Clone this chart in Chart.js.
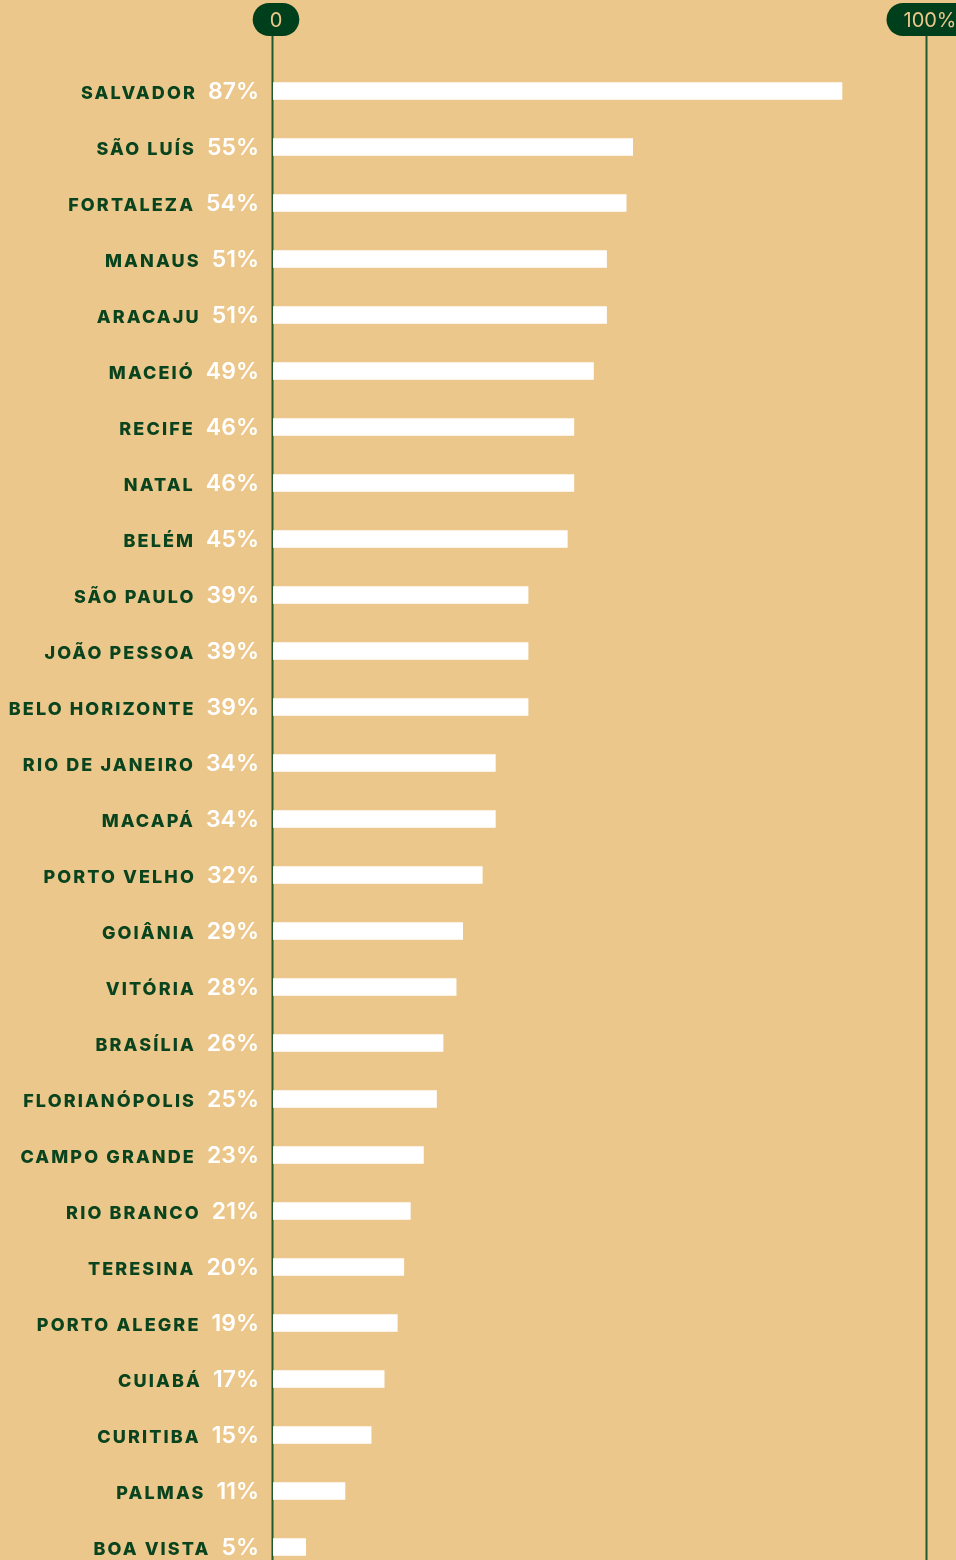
<!DOCTYPE html>
<html>
<head>
<meta charset="utf-8">
<script src="https://cdn.jsdelivr.net/npm/chart.js@4"></script>
<style>
  html, body { margin: 0; padding: 0; background: #ECC78B; overflow: hidden; }
  #wrap { width: 956px; height: 1580px; }
</style>
</head>
<body>
<div id="wrap"><canvas id="chart" width="956" height="1580"></canvas></div>
<script>
const cities = ['SALVADOR', 'SÃO LUÍS', 'FORTALEZA', 'MANAUS', 'ARACAJU', 'MACEIÓ', 'RECIFE', 'NATAL', 'BELÉM',
  'SÃO PAULO', 'JOÃO PESSOA', 'BELO HORIZONTE', 'RIO DE JANEIRO', 'MACAPÁ', 'PORTO VELHO', 'GOIÂNIA', 'VITÓRIA',
  'BRASÍLIA', 'FLORIANÓPOLIS', 'CAMPO GRANDE', 'RIO BRANCO', 'TERESINA', 'PORTO ALEGRE', 'CUIABÁ', 'CURITIBA',
  'PALMAS', 'BOA VISTA'];
const values = [87, 55, 54, 51, 51, 49, 46, 46, 45, 39, 39, 39, 34, 34, 32, 29, 28, 26, 25, 23, 21, 20, 19, 17, 15, 11, 5];
const axisTicks = [0, 100];
const axisLabels = ['0', '100%'];

const GREEN = '#003F1B';
const LABEL_GREEN = '#0A441E';
const TAN = '#ECC78B';

// vertical guide lines + pill badges for 0 and 100%
const guides = {
  id: 'guides',
  beforeDatasetsDraw(chart) {
    const ctx = chart.ctx;
    const x = chart.scales.x;
    ctx.save();
    ctx.strokeStyle = '#1E5A2C';
    ctx.lineWidth = 2;
    axisTicks.forEach(t => {
      const px = Math.round(x.getPixelForValue(t)) - 0.5;
      ctx.beginPath();
      ctx.moveTo(px, 30);
      ctx.lineTo(px, chart.height);
      ctx.stroke();
    });
    ctx.restore();
  },
  afterDraw(chart) {
    const ctx = chart.ctx;
    const x = chart.scales.x;
    ctx.save();
    ctx.font = '400 20px Inter';
    ctx.textAlign = 'center';
    ctx.textBaseline = 'middle';
    axisTicks.forEach((t, i) => {
      const cx = x.getPixelForValue(t) + 3;
      const w = ctx.measureText(axisLabels[i]).width + 34;
      const h = 33;
      ctx.fillStyle = GREEN;
      ctx.beginPath();
      ctx.roundRect(cx - w / 2, 3, w, h, h / 2);
      ctx.fill();
      ctx.fillStyle = TAN;
      ctx.fillText(axisLabels[i], cx, 21);
    });
    ctx.restore();
  }
};

// city name + percentage to the left of each bar
const rowLabels = {
  id: 'rowLabels',
  afterDatasetsDraw(chart) {
    const ctx = chart.ctx;
    const y = chart.scales.y;
    const right = 259;
    ctx.save();
    ctx.textBaseline = 'alphabetic';
    ctx.textAlign = 'right';
    cities.forEach((name, i) => {
      const base = y.getPixelForValue(i) + 7.5;
      ctx.font = '600 23px Inter';
      ctx.letterSpacing = '0px';
      ctx.fillStyle = '#FFFFFF';
      const pct = values[i] + '%';
      ctx.fillText(pct, right, base);
      const w = ctx.measureText(pct).width;
      ctx.font = '800 18px Inter';
      ctx.letterSpacing = '2.1px';
      ctx.fillStyle = LABEL_GREEN;
      ctx.fillText(name, right - w - 11, base);
    });
    ctx.restore();
  }
};

new Chart(document.getElementById('chart'), {
  type: 'bar',
  data: {
    labels: cities,
    datasets: [{
      data: values,
      backgroundColor: '#FFFFFF',
      borderWidth: 0,
      barThickness: 17
    }]
  },
  options: {
    indexAxis: 'y',
    responsive: false,
    animation: false,
    devicePixelRatio: 1,
    layout: { padding: { left: 273, right: 29, top: 63, bottom: 5 } },
    scales: {
      x: { min: 0, max: 100, display: false },
      y: { display: false }
    },
    plugins: {
      legend: { display: false },
      tooltip: { enabled: false }
    }
  },
  plugins: [guides, rowLabels]
});
</script>
</body>
</html>
